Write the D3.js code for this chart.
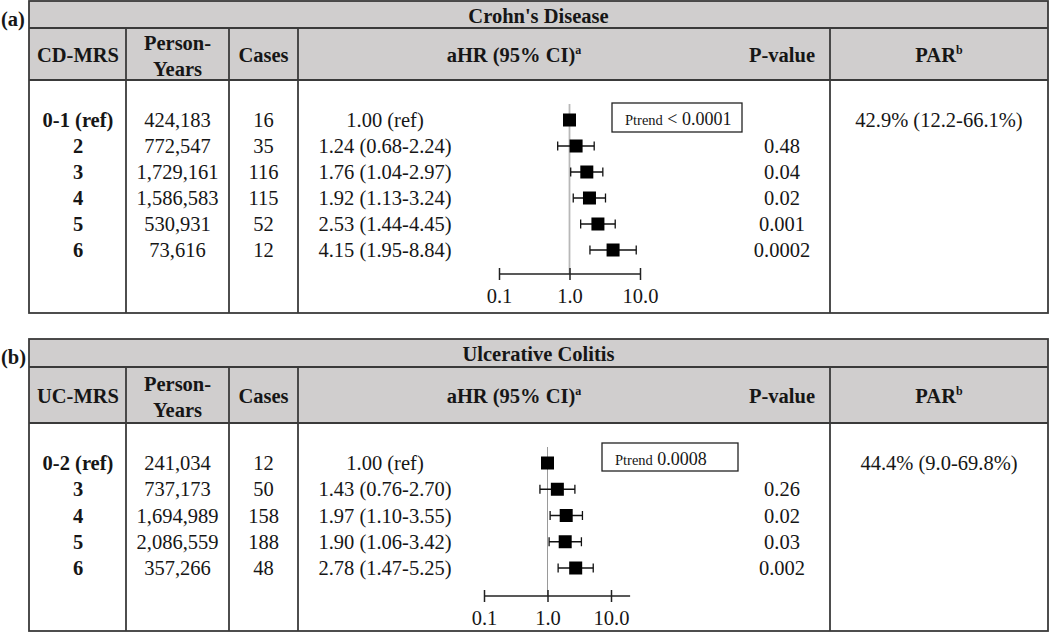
<!DOCTYPE html>
<html>
<head>
<meta charset="utf-8">
<script src="https://cdnjs.cloudflare.com/ajax/libs/d3/7.8.5/d3.min.js"></script>
<style>
  body { margin: 0; background: #fff; }
  svg text { font-family: "Liberation Serif", "Times New Roman", serif; fill: #161616; }
</style>
</head>
<body>
<svg id="forest_table" width="1050" height="632"></svg>
<script>
// ! Data - Crohn's disease
var cd_levels = ["0-1 (ref)", "2", "3", "4", "5", "6"];
var cd_person_years = [424183, 772547, 1729161, 1586583, 530931, 73616];
var cd_cases = [16, 35, 116, 115, 52, 12];
var cd_hr = [1.00, 1.24, 1.76, 1.92, 2.53, 4.15];
var cd_lower = [null, 0.68, 1.04, 1.13, 1.44, 1.95];
var cd_upper = [null, 2.24, 2.97, 3.24, 4.45, 8.84];
var cd_pvalue = ["", "0.48", "0.04", "0.02", "0.001", "0.0002"];
var cd_par = "42.9% (12.2-66.1%)";
var cd_ptrend = " < 0.0001";

// ! Data - Ulcerative colitis
var uc_levels = ["0-2 (ref)", "3", "4", "5", "6"];
var uc_person_years = [241034, 737173, 1694989, 2086559, 357266];
var uc_cases = [12, 50, 158, 188, 48];
var uc_hr = [1.00, 1.43, 1.97, 1.90, 2.78];
var uc_lower = [null, 0.76, 1.10, 1.06, 1.47];
var uc_upper = [null, 2.70, 3.55, 3.42, 5.25];
var uc_pvalue = ["", "0.26", "0.02", "0.03", "0.002"];
var uc_par = "44.4% (9.0-69.8%)";
var uc_ptrend = " 0.0008";

var hr_ticks = [0.1, 1, 10];

// ! Layout
var table_left = 29, table_right = 1048;
var col_edges = [126, 229, 298, 830];
var font_size = 20.5;
var header_fill = "#d0cece";
var line_col = "#3a3a3a";
var f2 = d3.format(".2f");
var f_comma = d3.format(",");

var svg = d3.select("#forest_table");

function draw_panel(p) {
  var g = svg.append("g");
  var title_mid = (p.top + p.title_bottom) / 2;
  var head_mid = (p.title_bottom + p.head_bottom) / 2;

  // header backgrounds
  g.append("rect")
    .attr("x", table_left).attr("y", p.top)
    .attr("width", table_right - table_left).attr("height", p.head_bottom - p.top)
    .attr("fill", header_fill);

  // grid lines
  g.append("rect")
    .attr("x", table_left).attr("y", p.top)
    .attr("width", table_right - table_left).attr("height", p.bottom - p.top)
    .attr("fill", "none").attr("stroke", line_col).attr("stroke-width", 1.8);

  g.selectAll("hline")
    .data([p.title_bottom, p.head_bottom])
    .enter().append("line")
    .attr("x1", table_left).attr("x2", table_right)
    .attr("y1", function(d) { return d; }).attr("y2", function(d) { return d; })
    .attr("stroke", line_col).attr("stroke-width", 1.8);

  g.selectAll("vline")
    .data(col_edges)
    .enter().append("line")
    .attr("x1", function(d) { return d; }).attr("x2", function(d) { return d; })
    .attr("y1", p.title_bottom).attr("y2", p.bottom)
    .attr("stroke", line_col).attr("stroke-width", 1.8);

  // panel letter + title
  g.append("text")
    .attr("x", 1).attr("y", title_mid + 11)
    .style("font-weight", "bold").style("font-size", font_size + "px")
    .text(p.letter);

  g.append("text")
    .attr("x", (table_left + table_right) / 2).attr("y", title_mid + 8)
    .attr("text-anchor", "middle")
    .style("font-weight", "bold").style("font-size", font_size + "px")
    .text(p.title);

  // column headers
  var bold = function(sel) {
    return sel.attr("text-anchor", "middle")
      .style("font-weight", "bold").style("font-size", font_size + "px");
  };
  bold(g.append("text").attr("x", 78).attr("y", head_mid + 8)).text(p.score_name);
  bold(g.append("text").attr("x", 177.5).attr("y", head_mid - 4)).text("Person-");
  bold(g.append("text").attr("x", 177.5).attr("y", head_mid + 22)).text("Years");
  bold(g.append("text").attr("x", 263.5).attr("y", head_mid + 8)).text("Cases");
  var ahr = bold(g.append("text").attr("x", 514).attr("y", head_mid + 8));
  ahr.append("tspan").text("aHR (95% CI)");
  ahr.append("tspan").attr("dy", -8).style("font-size", "12px").text("a");
  bold(g.append("text").attr("x", 782).attr("y", head_mid + 8)).text("P-value");
  var par = bold(g.append("text").attr("x", 939).attr("y", head_mid + 8));
  par.append("tspan").text("PAR");
  par.append("tspan").attr("dy", -8).style("font-size", "12px").text("b");

  // rows
  var y = d3.scalePoint()
    .domain(p.levels)
    .range([p.row_first, p.row_last]);

  var rows = p.levels.map(function(d, i) {
    return { level: d, py: p.person_years[i], cases: p.cases[i], hr: p.hr[i],
             lo: p.lower[i], hi: p.upper[i], pv: p.pvalue[i] };
  });

  var cells = [
    { x: 78, bold: true, txt: function(d) { return d.level; } },
    { x: 177.5, txt: function(d) { return f_comma(d.py); } },
    { x: 263.5, txt: function(d) { return d.cases; } },
    { x: 385, txt: function(d) {
        return d.lo === null ? f2(d.hr) + " (ref)" : f2(d.hr) + " (" + f2(d.lo) + "-" + f2(d.hi) + ")"; } },
    { x: 782, txt: function(d) { return d.pv; } }
  ];

  cells.forEach(function(c) {
    g.selectAll("cell")
      .data(rows)
      .enter().append("text")
      .attr("x", c.x)
      .attr("y", function(d) { return y(d.level) + 7; })
      .attr("text-anchor", "middle")
      .style("font-size", font_size + "px")
      .style("font-weight", c.bold ? "bold" : "normal")
      .text(c.txt);
  });

  g.append("text")
    .attr("x", 939).attr("y", p.row_first + 7)
    .attr("text-anchor", "middle")
    .style("font-size", font_size + "px")
    .text(p.par);

  // ! Forest plot
  var x = d3.scaleLog()
    .domain([hr_ticks[0], hr_ticks[hr_ticks.length - 1]])
    .range(p.x_range);

  g.append("line")
    .attr("x1", x(1)).attr("x2", x(1))
    .attr("y1", p.row_first - 16).attr("y2", p.axis_y)
    .attr("stroke", p.ref_col).attr("stroke-width", p.ref_width);

  var ci_rows = rows.filter(function(d) { return d.lo !== null; });
  g.selectAll("ci")
    .data(ci_rows)
    .enter().append("line")
    .attr("x1", function(d) { return x(d.lo); })
    .attr("x2", function(d) { return x(d.hi); })
    .attr("y1", function(d) { return y(d.level); })
    .attr("y2", function(d) { return y(d.level); })
    .attr("stroke", "#111").attr("stroke-width", 1.3);

  ["lo", "hi"].forEach(function(k) {
    g.selectAll("cap")
      .data(ci_rows)
      .enter().append("line")
      .attr("x1", function(d) { return x(d[k]); })
      .attr("x2", function(d) { return x(d[k]); })
      .attr("y1", function(d) { return y(d.level) - 4.5; })
      .attr("y2", function(d) { return y(d.level) + 4.5; })
      .attr("stroke", "#111").attr("stroke-width", 1.3);
  });

  g.selectAll("square")
    .data(rows)
    .enter().append("rect")
    .attr("x", function(d) { return x(d.hr) - 6.5; })
    .attr("y", function(d) { return y(d.level) - 6.5; })
    .attr("width", 13).attr("height", 13)
    .attr("fill", "#000");

  var axis = g.append("g")
    .attr("transform", "translate(0," + p.axis_y + ")")
    .call(d3.axisBottom(x).tickValues(hr_ticks).tickFormat(d3.format(".1f")).tickSizeOuter(0));
  axis.select(".domain").remove();
  axis.selectAll(".tick line").attr("y1", -6).attr("y2", 6).attr("stroke", "#222").attr("stroke-width", 1.5);
  axis.selectAll(".tick text")
    .attr("y", 29).attr("dy", 0)
    .attr("font-family", null).attr("font-size", null)
    .style("font-size", font_size + "px");
  axis.append("line")
    .attr("x1", x(hr_ticks[0])).attr("x2", x(p.axis_end))
    .attr("stroke", "#222").attr("stroke-width", 1.5);

  // P-trend box
  g.append("rect")
    .attr("x", p.box[0]).attr("y", p.box[1])
    .attr("width", p.box[2]).attr("height", p.box[3])
    .attr("fill", "#fff").attr("stroke", "#222").attr("stroke-width", 1.3);
  var pt = g.append("text")
    .attr("x", p.box[0] + 13).attr("y", p.box[1] + 22);
  pt.append("tspan").style("font-size", "14.5px").text("Ptrend");
  pt.append("tspan").style("font-size", "18px").text(p.ptrend);
}

draw_panel({
  letter: "(a)", title: "Crohn's Disease", score_name: "CD-MRS",
  levels: cd_levels, person_years: cd_person_years, cases: cd_cases, hr: cd_hr,
  lower: cd_lower, upper: cd_upper, pvalue: cd_pvalue, par: cd_par, ptrend: cd_ptrend,
  top: 1, title_bottom: 28, head_bottom: 80, bottom: 313,
  row_first: 120, row_last: 250,
  x_range: [499, 640], axis_y: 274, axis_end: 10,
  ref_col: "#b8b8b8", ref_width: 1.8,
  box: [612, 103, 130, 29]
});

draw_panel({
  letter: "(b)", title: "Ulcerative Colitis", score_name: "UC-MRS",
  levels: uc_levels, person_years: uc_person_years, cases: uc_cases, hr: uc_hr,
  lower: uc_lower, upper: uc_upper, pvalue: uc_pvalue, par: uc_par, ptrend: uc_ptrend,
  top: 339, title_bottom: 367, head_bottom: 423, bottom: 631,
  row_first: 463, row_last: 568,
  x_range: [484, 611], axis_y: 596, axis_end: 20,
  ref_col: "#9a9a9a", ref_width: 1,
  box: [602, 443, 136, 28]
});
</script>
</body>
</html>
